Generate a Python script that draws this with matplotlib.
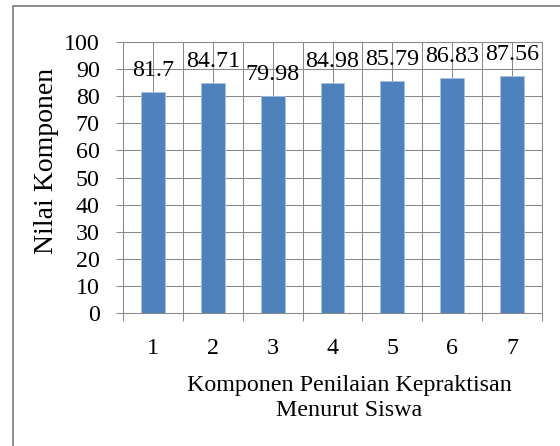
import matplotlib
matplotlib.use("Agg")
import matplotlib.pyplot as plt
from matplotlib.lines import Line2D

komponen = ["1", "2", "3", "4", "5", "6", "7"]
nilai = [81.7, 84.71, 79.98, 84.98, 85.79, 86.83, 87.56]
label_nilai = ["81.7", "84.71", "79.98", "84.98", "85.79", "86.83", "87.56"]

plt.rcParams["font.family"] = ["Liberation Serif", "DejaVu Serif"]
FS = 17.3
GRID = "#898989"
BLUE = "#4F81BD"

fig = plt.figure(figsize=(5.6, 4.46), dpi=100)
ax = fig.add_axes([123 / 560, 133 / 446, 419 / 560, 271 / 446])

x = list(range(len(komponen)))
ax.bar(x, nilai, width=0.4, color=BLUE, edgecolor="#a9c1e0", linewidth=0.6, zorder=3)

for xi, v, lab in zip(x, nilai, label_nilai):
    ax.annotate(lab, (xi, v), xytext=(0, 11.5), textcoords="offset points",
                ha="center", va="baseline", fontsize=FS, zorder=4)

ax.set_xlim(-0.5, len(komponen) - 0.5)
ax.set_ylim(0, 100)
ax.set_yticks(range(0, 101, 10))
ax.set_xticks(x, komponen)
ax.set_xticks([i - 0.5 for i in range(len(komponen) + 1)], minor=True)

ax.tick_params(axis="x", which="major", length=0, pad=18, labelsize=FS)
ax.tick_params(axis="x", which="minor", length=5.5, width=0.75, color=GRID, direction="out")
ax.tick_params(axis="y", length=5.2, width=0.75, color=GRID, pad=11.5, labelsize=FS)

ax.grid(True, which="both", axis="x", color=GRID, linewidth=0.75, zorder=0)
ax.grid(True, which="major", axis="y", color=GRID, linewidth=0.75, zorder=0)
ax.set_axisbelow(True)
for sp in ax.spines.values():
    sp.set_color(GRID)
    sp.set_linewidth(0.75)

# the y title is drawn noticeably longer than the other texts in the original
fig.text(47 / 560, 1 - 161 / 446, "Nilai Komponen", rotation=90,
         ha="center", va="center", fontsize=20)
# baseline of a multi-line text is the last line's baseline
fig.text(349 / 560, 1 - 416 / 446, "Komponen Penilaian Kepraktisan\nMenurut Siswa",
         ha="center", va="baseline", multialignment="center", fontsize=FS,
         linespacing=1.25)

# outer frame of the chart (right and bottom edges fall outside the image)
fig.add_artist(Line2D([13 / 560, 1], [1 - 6 / 446, 1 - 6 / 446], color="#8c8c8c", lw=1.4))
fig.add_artist(Line2D([13 / 560, 13 / 560], [0, 1 - 6 / 446], color="#8c8c8c", lw=1.4))

fig.savefig("out.png", dpi=100)
